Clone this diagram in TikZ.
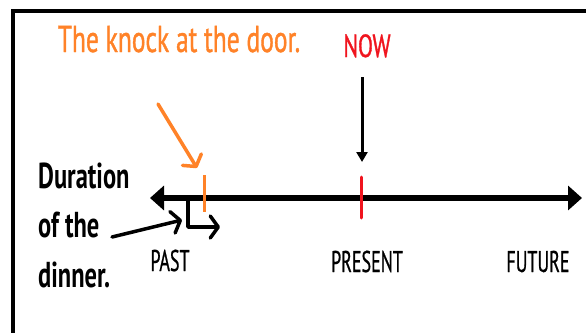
\documentclass[tikz,border=0pt]{standalone}
\usepackage{fontspec}
\usepackage{tikz}
\usetikzlibrary{arrows.meta}
\usetikzlibrary{positioning}
\newfontfamily\handfont[FakeStretch=0.68]{PT Sans}
\newfontfamily\erafont[FakeStretch=0.6, FakeBold=0.6]{PT Sans}
\definecolor{knockorange}{RGB}{255,130,40}
\definecolor{nowred}{RGB}{240,20,30}
\tikzset{hand/.style = {font=\handfont\bfseries\fontsize{36}{36}\selectfont, inner sep=0pt}}
\tikzset{era/.style = {font=\erafont\fontsize{30}{30}\selectfont, inner sep=0pt}}
\tikzset{mark line/.style = {line width=3pt}}
\tikzset{pointer/.style = {line width=3.5pt, line cap=round, line join=round,
                           -{Straight Barb[length=8pt, width=22pt, round]}}}

\begin{document}
\begin{tikzpicture}[x=1pt, y=-1pt]
      \clip (0, 0) rectangle (586, 332);
      % frame
      \draw [line width=4pt] (13, 340) -- (13, 11) -- (600, 11);
      % time line
      \coordinate (past end) at (150, 198);
      \coordinate (future end) at (582, 198);
      \draw [line width=6pt, {Triangle[length=14pt, width=24pt]}-{Triangle[length=14pt, width=24pt]}]
            (past end) -- (future end);
      \coordinate (knock top) at (204, 175);
      \coordinate (knock bottom) at (204, 212);
      \coordinate (now top) at (361, 177);
      \coordinate (now bottom) at (361, 218);
      \draw [mark line, knockorange] (knock top) -- (knock bottom);
      \draw [mark line, nowred, line cap=round] (now top) -- (now bottom);
      % labels
      \node [hand, knockorange, anchor=base, font=\handfont\fontsize{37.5}{37.5}\selectfont\addfontfeature{FakeBold=1}] (knock) at (179, 52) {The knock at the door.};
      \node [hand, nowred, anchor=base, font=\handfont\fontsize{32}{32}\selectfont\addfontfeature{FakeBold=1}] (now) at (367, 57) {NOW};
      \node [hand, anchor=base west] (duration) at (38, 188) {Duration};
      \node [hand, anchor=base west] (ofthe) at (38, 237) {of the};
      \node [hand, anchor=base west] (dinner) at (38, 287) {dinner.};
      \node [era, anchor=base] (past) at (170, 271) {PAST};
      \node [era, anchor=base] (present) at (367, 272) {PRESENT};
      \node [era, anchor=base] (future) at (538, 272) {FUTURE};
      % arrows
      \coordinate (knock from) at (158, 104);
      \coordinate (knock to) at (197, 168);
      \draw [pointer, knockorange] (knock from) -- (knock to);
      \coordinate (now from) at (362, 77);
      \coordinate (now to) at (362, 162);
      \draw [line width=3pt, -{Triangle[length=10pt, width=11pt]}] (now from) -- (now to);
      \coordinate (span from) at (188, 198);
      \coordinate (span to) at (220, 227);
      \draw [pointer] (span from) |- (span to);
      \coordinate (dinner from) at (112, 237);
      \coordinate (dinner to) at (182, 220);
      \draw [pointer] (dinner from) -- (dinner to);
    \end{tikzpicture}
\end{document}
